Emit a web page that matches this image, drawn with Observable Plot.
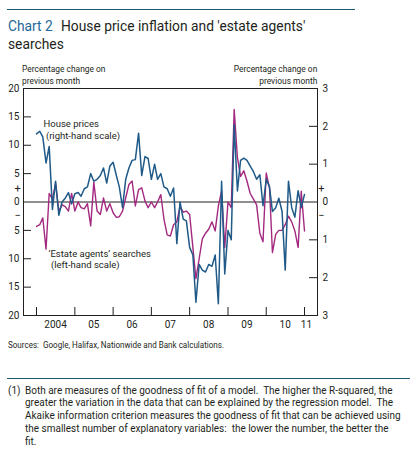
<!DOCTYPE html>
<html>
<head>
<meta charset="utf-8">
<script src="https://cdn.jsdelivr.net/npm/d3@7"></script>
<script src="https://cdn.jsdelivr.net/npm/@observablehq/plot@0.6"></script>
<style>
  html, body { margin: 0; padding: 0; background: #fff; }
  body { width: 417px; height: 464px; position: relative; overflow: hidden;
         font-family: Roboto, "Open Sans", sans-serif; color: #231f20; }
  .abs { position: absolute; white-space: nowrap; transform-origin: 0 0; z-index: 2; }
  .rule { position: absolute; background: #1e5a6e; height: 1.3px; }
  .title { font-size: 15px; line-height: 17.6px; transform: scaleX(0.92); }
  .num { color: #1f6796; }
  .axt { top: 63px; font-size: 9.2px; line-height: 11.5px; }
  #axl { left: 22px; transform: scaleX(0.915); }
  #axr { right: 100px; text-align: right; transform-origin: 100% 0; transform: scaleX(0.915); }
  #chart { position: absolute; left: 0; top: 60px; z-index: 1; }
  #sources { left: 8px; top: 339px; font-size: 8.8px; line-height: 12px; transform: scaleX(0.915); }
  .foot { font-size: 10.8px; line-height: 12.8px; transform: scaleX(0.925); top: 384.5px; }
  svg [aria-label="annotation"] text { transform-box: fill-box; transform-origin: 0 50%; transform: scaleX(0.82); }
</style>
</head>
<body>
<div class="rule" style="left:7px; top:8.5px; width:348px;"></div>
<div class="abs title num" style="left:8px; top:18px;">Chart 2</div>
<div class="abs title" style="left:61px; top:18px;">House price inflation and 'estate agents'</div>
<div class="abs title" style="left:8px; top:35.6px;">searches</div>
<div id="axl" class="abs axt">Percentage change on<br>previous month</div>
<div id="axr" class="abs axt">Percentage change on<br>previous month</div>
<div id="chart"></div>
<div id="sources" class="abs">Sources:&nbsp; Google, Halifax, Nationwide and Bank calculations.</div>
<div class="rule" style="left:7px; top:377.5px; width:403px;"></div>
<div class="abs foot" style="left:8px;">(1)</div>
<div class="abs foot" style="left:25px;">Both are measures of the goodness of fit of a model.&nbsp; The higher the R-squared, the<br>greater the variation in the data that can be explained by the regression model.&nbsp; The<br>Akaike information criterion measures the goodness of fit that can be achieved using<br>the smallest number of explanatory variables:&nbsp; the lower the number, the better the<br>fit.</div>
<script>
// ---- data (monthly, Jan 2004 – Jan 2011) ----
const firstMonth = "2004-01-01";
const lastMonth = "2011-01-01";
// House prices, % change on previous month (right-hand scale)
const housePrices = [
  1.80, 1.87, 1.72, 1.03, 1.47, -0.20, 0.55, -0.35, 0.00, 0.10, 0.25, -0.05,
  0.22, 0.25, 0.15, 0.35, 0.40, 0.75, 0.55, 0.60, 0.70, 0.90, 0.50, 0.95,
  1.05, 0.70, 0.40, -0.15, 0.60, 0.90, 1.10, 1.12, 1.82, 0.70, 1.20, 1.15,
  0.60, 1.00, 0.60, 0.75, 0.40, 0.35, 0.15, 0.37, -1.10, 0.00, -0.45, -0.50,
  -1.20, -1.40, -2.65, -1.65, -1.80, -1.85, -1.65, -1.70, -1.40, -2.69, 0.55, -1.90,
  -0.75, -1.00, 2.04, 0.29, 1.10, 1.16, 1.10, 0.95, 0.80, 0.60, 0.72, -0.10,
  0.60, 0.40, -0.25, -0.15, 0.10, -0.25, -1.80, 0.55, -0.15, -0.40, 0.30, -0.15,
  0.20
];
// 'Estate agents' searches, % change on previous month (left-hand scale)
const searches = [
  -4.3, -4.0, -2.8, -8.3, 1.5, 0.5, 3.3, -1.6, -0.5, -0.8, -1.6, 1.5,
  -1.6, 0.0, -1.0, -1.2, -0.3, -4.2, 3.5, -1.6, -2.2, 0.7, -1.6, -0.3,
  -1.9, -2.7, -2.6, -1.6, 0.7, 3.1, 3.7, -0.7, 2.2, 2.5, 0.2, -1.0,
  0.0, -1.0, 0.0, 1.3, -3.0, -5.8, -6.0, -4.0, -3.5, -0.8, -1.8, -1.6,
  -2.2, -8.0, -13.5, -10.0, -6.5, -5.5, -4.8, -3.5, -5.1, -0.7, 1.9, -8.0,
  0.0, -1.0, 16.3, 7.8, 4.5, 5.5, 3.7, 1.5, 0.5, -0.5, -5.5, -7.0,
  5.1, 2.5, -8.9, -5.7, -5.0, -5.0, -4.0, -2.5, -3.5, -5.1, -8.0, 1.9,
  -5.1
];
const xDomain = ["2003-08-30", "2011-05-05"];
const leftTicks = [-20, -15, -10, -5, 0, 5, 10, 15, 20];
const rightTicks = [-3, -2, -1, 0, 1, 2, 3];
const yearTicks = [2004, 2005, 2006, 2007, 2008, 2009, 2010, 2011];
const yearLabels = ["2004", "05", "06", "07", "08", "09", "10", "11"];
const yearLabelDates = ["2004-07-01", "2005-07-01", "2006-07-01", "2007-07-01", "2008-07-01", "2009-07-01", "2010-07-01", "2011-01-20"];
const signs = [{s: "+", v: 2.35}, {s: "\u2212", v: -2.4}];
const annotations = [
  {text: "House prices\n\u00a0(right-hand scale)", date: "2004-03-08", v: 12.8},
  {text: "\u2018Estate agents\u2019 searches\n\u00a0(left-hand scale)", date: "2004-04-25", v: -10.0}
];

const blue = "#1f5a88";
const magenta = "#a3287f";
const ink = "#231f20";
const k = 20 / 3; // right-hand scale units -> left-hand scale units

const months = d3.utcMonth.range(new Date(firstMonth), d3.utcMonth.offset(new Date(lastMonth), 1));
const rows = months.map((date, i) => ({date, house: housePrices[i] * k, search: searches[i]}));
const yearDates = yearTicks.map(y => new Date(Date.UTC(y, 0, 1)));
const labelDates = yearLabelDates.map(d => new Date(d));
const labelOf = new Map(labelDates.map((d, i) => [+d, yearLabels[i]]));

const W = 417, H = 275, mL = 23, mR = 100, mT = 28, mB = 20;
const innerW = W - mL - mR, innerH = H - mT - mB, tick = 8;

const chart = Plot.plot({
  width: W, height: H,
  marginLeft: mL, marginRight: mR, marginTop: mT, marginBottom: mB,
  style: {fontFamily: "Roboto, 'Open Sans', sans-serif", fontSize: "9.5px", color: ink, background: "none"},
  x: {type: "utc", domain: xDomain.map(d => new Date(d))},
  y: {domain: [-20, 20]},
  marks: [
    Plot.ruleY([0], {stroke: ink, strokeWidth: 1}),
    Plot.line(rows, {x: "date", y: "search", stroke: magenta, strokeWidth: 1.4}),
    Plot.line(rows, {x: "date", y: "house", stroke: blue, strokeWidth: 1.5}),
    Plot.frame({stroke: ink, strokeWidth: 1}),
    Plot.tickY(leftTicks.filter(d => Math.abs(d) < 20 && d !== 0), {y: d => d, stroke: ink, insetRight: innerW - tick}),
    Plot.tickY(rightTicks.filter(d => Math.abs(d) < 3 && d !== 0).map(d => d * k), {y: d => d, stroke: ink, insetLeft: innerW - tick}),
    Plot.tickX(yearDates, {x: d => d, stroke: ink, insetTop: innerH - tick}),
    Plot.axisY({anchor: "left", ticks: leftTicks, tickSize: 0, tickPadding: 4, tickFormat: d => Math.abs(d), label: null, fill: ink, fontSize: 10}),
    Plot.axisY({anchor: "right", ticks: rightTicks.map(d => d * k), tickSize: 0, tickPadding: 5, tickFormat: d => Math.abs(Math.round(d / k)), label: null, fill: ink, fontSize: 10}),
    Plot.axisX({ticks: labelDates, tickSize: 0, tickPadding: 5, tickFormat: d => labelOf.get(+d), label: null, fill: ink, fontSize: 10}),
    Plot.text(signs, {y: "v", text: "s", frameAnchor: "left", dx: -9, fill: ink, fontSize: 11}),
    Plot.text(signs, {y: "v", text: "s", frameAnchor: "right", dx: 7, fill: ink, fontSize: 11}),
    Plot.text(annotations, {x: d => new Date(d.date), y: "v", text: "text", textAnchor: "start", lineHeight: 1.2, fill: ink, fontSize: 9.5, ariaLabel: "annotation"})
  ]
});
document.getElementById("chart").appendChild(chart);
</script>
</body>
</html>
